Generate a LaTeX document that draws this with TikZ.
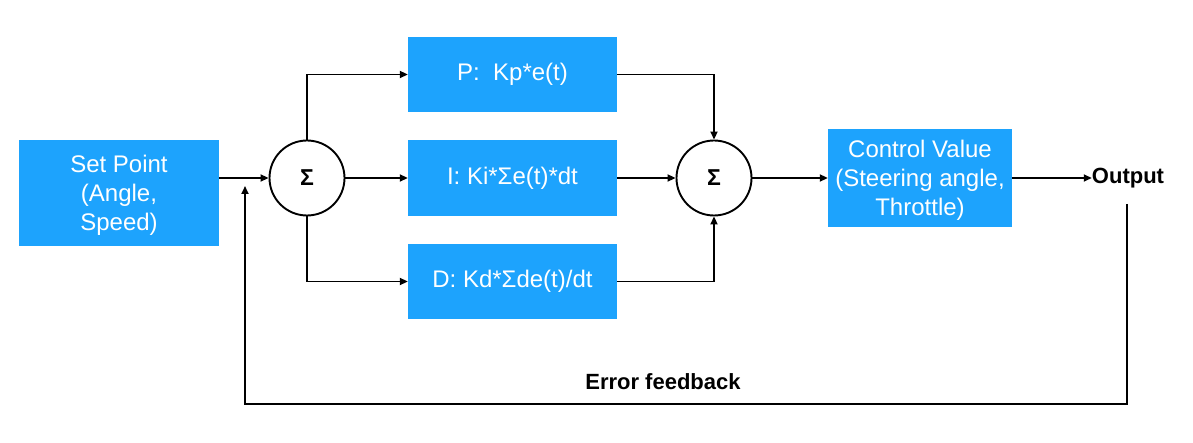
\documentclass[tikz,border=0pt]{standalone}
\usepackage{fontspec}
\setmainfont{Liberation Sans}
\usetikzlibrary{arrows.meta}
\definecolor{boxblue}{RGB}{29,163,253}
\tikzset{
  blk/.style={fill=boxblue, text=white, inner sep=0pt, align=center,
    font=\fontsize{24}{29}\selectfont},
  sumnode/.style={circle, draw=black, line width=1.9pt, minimum size=75pt, inner sep=0pt,
    font=\fontsize{23}{24}\selectfont\bfseries},
  conn/.style={line width=1.9pt, -{Triangle[length=8pt,width=7pt]}},
  lbl/.style={font=\fontsize{22}{24}\selectfont\bfseries, inner sep=0pt}
}
\begin{document}
\begin{tikzpicture}[x=1pt,y=-1pt]
\useasboundingbox (0,0) rectangle (1193,443);
\node[blk, minimum width=200pt, minimum height=106pt] (sp) at (119,193) {\rule{0pt}{22pt}Set Point\\(Angle,\\Speed)};
\node[sumnode] (s1) at (307,178) {Σ};
\node[blk, minimum width=209pt, minimum height=75pt] (p) at (512.5,74.5) {P:\ \ Kp*e(t)};
\node[blk, minimum width=209pt, minimum height=76pt] (i) at (512.5,178) {I: Ki*Σe(t)*dt};
\node[blk, minimum width=209pt, minimum height=75pt] (d) at (512.5,281.5) {D: Kd*Σde(t)/dt};
\node[sumnode] (s2) at (714,178) {Σ};
\node[blk, minimum width=184pt, minimum height=98pt] (cv) at (920,178) {\rule{0pt}{22pt}Control Value\\(Steering angle,\\Throttle)};
\node[lbl] (out) at (1128,178) {Output};
\node[lbl] (err) at (663,382) {Error feedback};
\coordinate (fbstart) at (1127,204);
\coordinate (fbbr) at (1127,404);
\coordinate (fbbl) at (245,404);
\coordinate (fbend) at (245,186);
\draw[conn] (sp.east |- s1.west) -- (s1.west);
\draw[conn] (s1.north) |- (p.west);
\draw[conn] (s1.east) -- (i.west);
\draw[conn] (s1.south) |- (d.west);
\draw[conn] (p.east) -| (s2.north);
\draw[conn] (i.east) -- (s2.west);
\draw[conn] (d.east) -| (s2.south);
\draw[conn] (s2.east) -- (cv.west);
\draw[conn] (cv.east) -- (out.west);
\draw[conn] (fbstart) -- (fbbr) -- (fbbl) -- (fbend);
\end{tikzpicture}
\end{document}
